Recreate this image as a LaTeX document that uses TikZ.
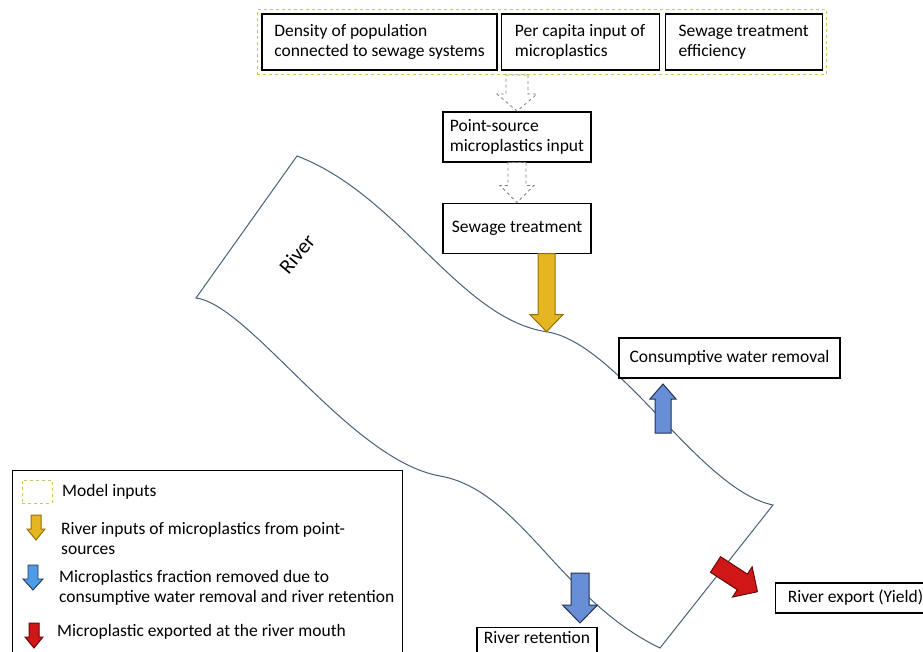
\documentclass[tikz,border=0pt]{standalone}
\usepackage{fontspec}
\setmainfont{Carlito}
\usetikzlibrary{positioning,fit}

\definecolor{riverline}{RGB}{72,96,122}
\definecolor{groupline}{RGB}{200,200,95}
\definecolor{yellowfill}{RGB}{230,182,34}
\definecolor{yellowline}{RGB}{150,110,10}
\definecolor{bluefill}{RGB}{104,142,214}
\definecolor{legbluefill}{RGB}{78,156,230}
\definecolor{blueline}{RGB}{35,50,85}
\definecolor{redfill}{RGB}{208,22,22}
\definecolor{redline}{RGB}{100,10,10}

\newcommand{\diagfont}{\fontsize{17.5pt}{20pt}\selectfont}

\tikzset{
  every node/.style={font=\diagfont},
  box/.style={draw, line width=1.1pt, align=left, inner sep=4pt},
  inputgroup/.style={draw=groupline, dashed, line width=1pt, inner xsep=4pt, inner ysep=4pt},
  legtext/.style={anchor=west, inner sep=0pt, align=left},
  hollowarrow/.style={draw=gray, dashed, line width=0.8pt, fill=white},
  yellowarrow/.style={draw=yellowline, fill=yellowfill, line width=1pt},
  bluearrow/.style={draw=blueline, fill=bluefill, line width=1pt},
  legbluearrow/.style={draw=blueline, fill=legbluefill, line width=0.9pt},
  redarrow/.style={draw=redline, fill=redfill, line width=1pt},
  % style / length / shaft half / head half / head length
  pics/fatarrow/.style args={#1/#2/#3/#4/#5}{code={
    \draw[#1] (0,-#3) -- (#2-#5,-#3) -- (#2-#5,-#4) -- (#2,0)
      -- (#2-#5,#4) -- (#2-#5,#3) -- (0,#3) -- cycle;}}
}

\begin{document}
\begin{tikzpicture}[x=1pt,y=-1pt]
\useasboundingbox (0,0) rectangle (923,652);

% river
\draw[riverline, line width=1pt] (297,156)
  .. controls (400,195) and (460,320) .. (548,332)
  .. controls (620,345) and (700,490) .. (773,505)
  -- (660,648)
  .. controls (560,600) and (520,490) .. (440,476)
  .. controls (350,460) and (250,305) .. (196,298)
  -- cycle;
\node[rotate=50, font=\fontsize{21pt}{24pt}\selectfont] (rivlabel) at (297,254) {River};

% model inputs
\node[box, minimum width=235pt, minimum height=56pt] (dens) at (379.5,42) {Density of population\\connected to sewage systems};
\node[box, minimum width=158pt, minimum height=56pt, right=3pt of dens] (percap) {Per capita input of\\microplastics};
\node[box, minimum width=157pt, minimum height=56pt, right=5pt of percap] (eff) {Sewage treatment\\efficiency};
\node[inputgroup, fit=(dens)(percap)(eff)] (inputs) {};

\node[box, minimum width=148pt, minimum height=50pt] (ps) at (517,137) {Point-source\\microplastics input};
\node[box, minimum width=148pt, minimum height=50pt, below=40pt of ps] (st) {Sewage treatment};
\node[box, minimum width=221pt, minimum height=40pt] (cw) at (729.5,358) {Consumptive water removal};
\node[box, anchor=north, minimum width=120pt, text depth=20pt] (rr) at (537,627) {River retention};
\node[box, anchor=west, minimum width=160pt, minimum height=30pt] (re) at (775,598) {River export (Yield)};

% flows
\pic[rotate=-90] at (inputs.south -| ps.north) {fatarrow={hollowarrow/36/11/20/17}};
\pic[rotate=-90] at (ps.south) {fatarrow={hollowarrow/40/9/17/17}};
\pic[rotate=-90] at ([xshift=29.5pt]st.south) {fatarrow={yellowarrow/78/8.5/16.5/17}};
\pic[rotate=90] at (663,433) {fatarrow={bluearrow/49/8/13/15}};
\pic[rotate=-90] at (580,573) {fatarrow={bluearrow/50/9/17.5/18}};
\pic[rotate=-33] at (715.5,564.5) {fatarrow={redarrow/50/9.3/18/18}};

% legend
\node[draw, line width=1.1pt, minimum width=390pt, minimum height=200pt, anchor=north west] (legend) at (12,470) {};
\node[draw=groupline, dashed, line width=0.9pt, minimum width=30pt, minimum height=23pt, anchor=north west] (legsq) at (22,480) {};
\node[legtext] (legin) at (62,492) {Model inputs};
\pic[rotate=-90] at (36,515) {fatarrow={yellowarrow/25/5/9/11}};
\node[legtext] (legps) at (61,538) {River inputs of microplastics from point-\\sources};
\pic[rotate=-90] at (33,565) {fatarrow={legbluearrow/25/5/10/11}};
\node[legtext] (legrm) at (59,588) {Microplastics fraction removed due to\\consumptive water removal and river retention};
\pic[rotate=-90] at (34,623) {fatarrow={redarrow/25/5/9/11}};
\node[legtext] (legex) at (57,632) {Microplastic exported at the river mouth};
\end{tikzpicture}
\end{document}
